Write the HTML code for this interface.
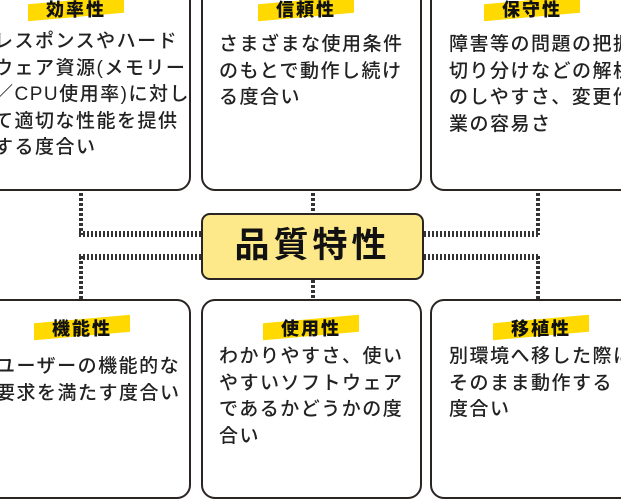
<!DOCTYPE html><html><head><meta charset="utf-8"><style>
body{margin:0;width:621px;height:472px;overflow:hidden;background:#fff;position:relative;font-family:"Liberation Sans","Noto Sans CJK JP",sans-serif;color:#222}
.box{position:absolute;width:219px;border:2px solid #2a2522;border-radius:14px;background:#fff;box-sizing:border-box}
.t{position:absolute;font-size:18px;font-weight:900;letter-spacing:2px;white-space:nowrap;transform:translateX(-50%);z-index:2;color:#111}
.t:before{content:"";position:absolute;left:-18px;right:-18px;top:4px;height:17px;background:#ffd900;transform:skewY(-5deg);z-index:-1}
.tx{position:absolute;font-size:19px;line-height:26.5px;letter-spacing:1.5px;white-space:pre;font-weight:500}
.v{position:absolute;width:4px;background:repeating-linear-gradient(to bottom,#333 0 3px,transparent 3px 5px)}
.h{position:absolute;height:6px;background:repeating-linear-gradient(to right,#333 0 2px,transparent 2px 4px)}
</style></head><body>
<div class="box" style="left:-30px;top:-20px;height:211px;width:221px"></div>
<div class="box" style="left:201px;top:-20px;height:211px;width:221px"></div>
<div class="box" style="left:430px;top:-20px;height:211px;width:221px"></div>
<div class="box" style="left:-30px;top:299px;height:200px;width:221px"></div>
<div class="box" style="left:201px;top:299px;height:200px;width:221px"></div>
<div class="box" style="left:430px;top:299px;height:200px;width:221px"></div>

<div class="t" style="left:76px;top:-4px">効率性</div>
<div class="t" style="left:306px;top:-4px">信頼性</div>
<div class="t" style="left:532px;top:-4px">保守性</div>
<div class="t" style="left:82px;top:315px">機能性</div>
<div class="t" style="left:311px;top:315px">使用性</div>
<div class="t" style="left:541px;top:315px">移植性</div>

<div style="position:absolute;left:0;top:0;width:188px;height:188px;overflow:hidden">
<div class="tx" style="left:-6px;top:29px">レスポンスやハード
ウェア資源(メモリー
／CPU使用率)に対し
て適切な性能を提供
する度合い</div></div>
<div class="tx" style="left:219px;top:32px">さまざまな使用条件
のもとで動作し続け
る度合い</div>
<div class="tx" style="left:449px;top:32px">障害等の問題の把握
切り分けなどの解析
のしやすさ、変更作
業の容易さ</div>
<div style="position:absolute;left:0;top:300px;width:188px;height:172px;overflow:hidden">
<div class="tx" style="left:-4px;top:54px">ユーザーの機能的な
要求を満たす度合い</div></div>
<div class="tx" style="left:219px;top:344px">わかりやすさ、使い
やすいソフトウェア
であるかどうかの度
合い</div>
<div class="tx" style="left:449px;top:344px">別環境へ移した際に
そのまま動作する
度合い</div>

<div class="v" style="left:79px;top:193px;height:42px"></div>
<div class="h" style="left:79px;top:231px;width:123px"></div>
<div class="h" style="left:79px;top:254px;width:123px"></div>
<div class="v" style="left:79px;top:256px;height:43px"></div>
<div class="v" style="left:536px;top:193px;height:42px"></div>
<div class="h" style="left:424px;top:231px;width:116px"></div>
<div class="h" style="left:424px;top:254px;width:116px"></div>
<div class="v" style="left:536px;top:256px;height:43px"></div>
<div class="v" style="left:311px;top:193px;height:20px"></div>
<div class="v" style="left:311px;top:280px;height:19px"></div>

<div style="position:absolute;left:201px;top:213px;width:223px;height:67px;box-sizing:border-box;border:2.5px solid #2a2522;border-radius:9px;background:#fde98a;text-align:center;font-size:35px;font-weight:bold;line-height:62px;letter-spacing:4px;color:#111">品質特性</div>
</body></html>
